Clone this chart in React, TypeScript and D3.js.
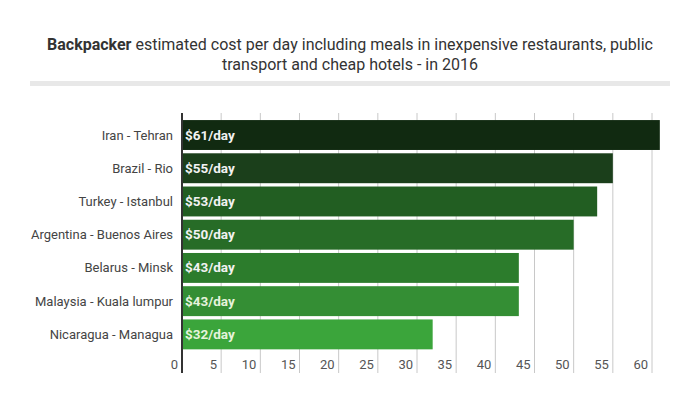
import React from 'react';
import * as d3 from 'd3';

// data
const cities = [
  'Iran - Tehran',
  'Brazil - Rio',
  'Turkey - Istanbul',
  'Argentina - Buenos Aires',
  'Belarus - Minsk',
  'Malaysia - Kuala lumpur',
  'Nicaragua - Managua',
];
const costs = [61, 55, 53, 50, 43, 43, 32];
const barColors = ['#112a11', '#1b3f1b', '#225e22', '#276c27', '#2c7c2c', '#348e34', '#3ba53b'];
const ticks = [0, 5, 10, 15, 20, 25, 30, 35, 40, 45, 50, 55, 60];

const W = 700;
const H = 398;

const App = () => {
  const x = d3.scaleLinear().domain([0, 60]).range([182, 652]);
  const y = d3.scaleBand().domain(cities).range([118.4, 351]).paddingInner(0.1).paddingOuter(0.05);
  const gridTop = 113;
  const gridBottom = 373;
  const font = 'Roboto, "Noto Sans", sans-serif';

  return (
    <svg width={W} height={H} style={{ position: 'absolute', left: 0, top: 0, fontFamily: font }}>
      <rect width={W} height={H} fill="#fff" />
      {/* title */}
      <text x={350} y={50} textAnchor="middle" fontSize={16} fill="#333">
        <tspan fontWeight="bold">Backpacker</tspan> estimated cost per day including meals in inexpensive restaurants, public
      </text>
      <text x={350} y={70} textAnchor="middle" fontSize={16} fill="#333">
        transport and cheap hotels - in 2016
      </text>
      <rect x={30} y={81} width={640} height={5} fill="#e8e8e8" />

      {/* grid */}
      {ticks.slice(1).map((t) => (
        <line key={t} x1={x(t)} x2={x(t)} y1={gridTop} y2={gridBottom} stroke="#c8c8c8" strokeWidth={1} />
      ))}

      {/* bars */}
      {cities.map((c, i) => (
        <g key={c}>
          <rect x={x(0)} y={y(c)} width={x(costs[i]) - x(0)} height={y.bandwidth()} fill={barColors[i]} />
          <text
            x={x(0) + 3}
            y={(y(c) as number) + y.bandwidth() / 2 + 4.5}
            fontSize={13.5}
            fontWeight="bold"
            fill={i >= 5 ? '#e6f3dc' : '#f2f2f2'}
          >
            ${costs[i]}/day
          </text>
          <text x={173} y={(y(c) as number) + y.bandwidth() / 2 + 4.5} fontSize={13} fill="#444" textAnchor="end">
            {c}
          </text>
        </g>
      ))}

      {/* zero axis */}
      <line x1={x(0)} x2={x(0)} y1={gridTop} y2={gridBottom} stroke="#333" strokeWidth={2} />

      {/* tick labels */}
      {ticks.map((t) => (
        <text key={t} x={x(t) - 4} y={369} fontSize={13} fill="#555" textAnchor="end">
          {t}
        </text>
      ))}
    </svg>
  );
};

export default App;
